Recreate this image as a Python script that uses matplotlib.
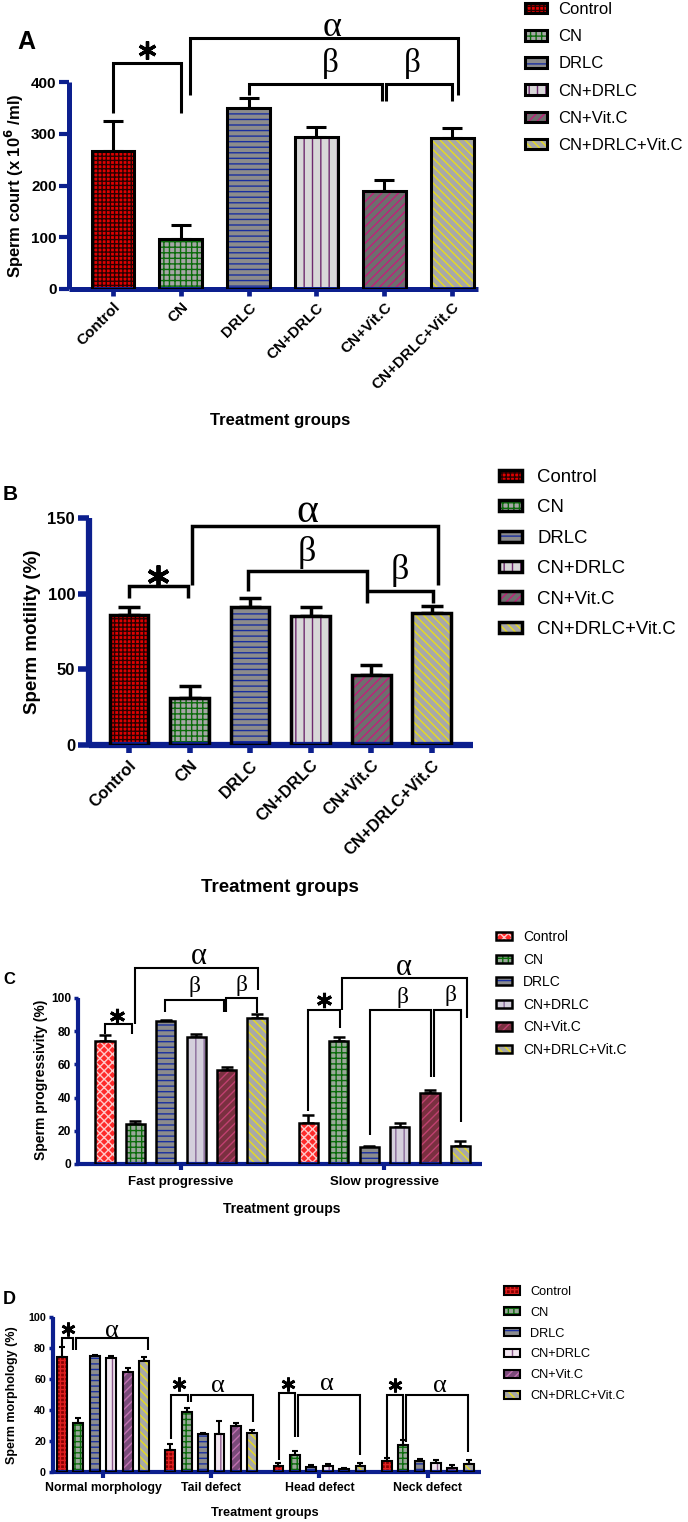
import numpy as np
import matplotlib
matplotlib.use("Agg")
import matplotlib.pyplot as plt
from matplotlib.patches import Patch
from matplotlib.legend_handler import HandlerTuple

plt.rcParams['font.family'] = ['Liberation Sans', 'DejaVu Sans']
plt.rcParams['hatch.linewidth'] = 1.0

W, H = 688, 1522
NAVY = '#0c1f8e'

groups = ['Control', 'CN', 'DRLC', 'CN+DRLC', 'CN+Vit.C', 'CN+DRLC+Vit.C']

# A - sperm count (x 10^6 /ml)
count_mean = [267, 97, 349, 293, 189, 291]
count_sem = [58, 27, 21, 21, 22, 20]

# B - sperm motility (%)
motility_mean = [86, 31, 91, 85, 46, 87]
motility_sem = [5, 8, 6, 6, 7, 5]

# C - sperm progressivity (%)
prog_cats = ['Fast progressive', 'Slow progressive']
fast_mean = [74, 24, 86, 76.6, 56.6, 88]
fast_sem = [4, 2, 1, 1.8, 2, 2.6]
slow_mean = [25, 74, 10, 22.4, 42.6, 11]
slow_sem = [4.4, 2.4, 1, 2, 2, 2.8]

# D - sperm morphology (%)
morph_cats = ['Normal morphology', 'Tail defect', 'Head defect', 'Neck defect']
normal_mean = [74, 31.3, 75, 73.4, 64.4, 71.3]
normal_sem = [6.5, 3.3, 0.6, 1.6, 2.6, 2.6]
tail_mean = [14, 38.9, 24.4, 24.4, 29.8, 25]
tail_sem = [4, 2.6, 0.9, 8.6, 1.9, 2.4]
head_mean = [3.9, 10.8, 3.2, 3.7, 2.2, 4.1]
head_sem = [2.1, 2.6, 1.5, 1.3, 0.6, 1.9]
neck_mean = [7.1, 17.7, 7.1, 5.8, 2.6, 5.4]
neck_sem = [1.9, 2.8, 1.1, 1.8, 1.7, 2.4]

# fill style per group: face, hatch colour, hatch
style_ab = [('#e00000', '#2a0000', '++++'),
            ('#a6a6a6', '#0b6b0b', '+++'),
            ('#8c8c8c', '#1a2fa0', '---'),
            ('#d8d8d8', '#6e2a6e', '||'),
            ('#6e6e6e', '#c0207a', '////'),
            ('#a8a8a8', '#e6dc1e', '\\\\\\\\')]
style_c = [('#ff2a2a', '#ffc8c8', 'xxxx'),
           ('#9aa89a', '#0b6b0b', '+++'),
           ('#8c8c8c', '#1a2fa0', '---'),
           ('#d4cfdc', '#8a6a9a', '||'),
           ('#7a3040', '#c04070', '////'),
           ('#a8a8a8', '#e6dc1e', '\\\\\\\\')]
style_d = [('#8a0000', '#e02020', '++++'),
           ('#9aa89a', '#0b6b0b', '+++'),
           ('#8c8c8c', '#1a2fa0', '---'),
           ('#f2e6f0', '#8a5a8a', '||'),
           ('#7a4a7a', '#c070b0', '////'),
           ('#a8a8a8', '#e6dc1e', '\\\\\\\\')]

fig = plt.figure(figsize=(W / 100, H / 100), dpi=100)


def fx(px):
    return px / W


def fy(py):
    return 1 - py / H


def make_axes(x0, x1, ybot, ytop, xlim, ylim, spine_lw):
    ax = fig.add_axes([fx(x0), fy(ybot), (x1 - x0) / W, (ybot - ytop) / H])
    ax.set_xlim(*xlim)
    ax.set_ylim(*ylim)
    for s in ['top', 'right']:
        ax.spines[s].set_visible(False)
    for s in ['left', 'bottom']:
        ax.spines[s].set_color(NAVY)
        ax.spines[s].set_linewidth(spine_lw)
        ax.spines[s].set_capstyle('butt')
    return ax


def draw_bars(ax, xs, mean, sem, style, width, lw, cap):
    handles = []
    for i in range(len(mean)):
        face, hcol, hatch = style[i]
        ax.bar(xs[i], mean[i], width, color=face, edgecolor=hcol, hatch=hatch,
               linewidth=0, zorder=2)
        ax.bar(xs[i], mean[i], width, fill=False, edgecolor='black',
               linewidth=lw, zorder=3)
        handles.append((Patch(facecolor=face, edgecolor=hcol, hatch=hatch, linewidth=0),
                        Patch(fill=False, edgecolor='black', linewidth=lw)))
    ax.errorbar(xs, mean, yerr=[np.zeros(len(mean)), sem], fmt='none', ecolor='black',
                elinewidth=lw, capsize=cap, capthick=lw, zorder=1)
    return handles


def bracket(ax, xl, xr, ytop, yl, yr, lw):
    ax.plot([xl, xl, xr, xr], [yl, ytop, ytop, yr], color='black', lw=lw,
            clip_on=False, solid_joinstyle='miter', solid_capstyle='butt', zorder=4)


def star(ax, x, y, size, lw):
    # six-spoke asterisk used for the "*" significance mark
    ax.plot([x], [y], marker=(6, 2, 0), ms=size, mew=lw, color='black',
            clip_on=False, zorder=4)


def greek(ax, x, y, s, size):
    ax.text(x, y, s, ha='center', va='center', fontsize=size,
            family='Liberation Serif', clip_on=False)


def add_legend(ax, handles, x_px, top_px, fs, hl, hh, pad, spacing):
    ax.legend(handles, groups, handler_map={tuple: HandlerTuple(ndivide=1, pad=0)},
              loc='upper left', bbox_to_anchor=(fx(x_px), fy(top_px)),
              bbox_transform=fig.transFigure, frameon=False, borderpad=0,
              borderaxespad=0, fontsize=fs, handlelength=hl, handleheight=hh,
              handletextpad=pad, labelspacing=spacing)


bold = dict(fontweight='bold')

# ---------------- A ----------------
axA = make_axes(69, 478, 289, 82, (-0.647, 5.38), (0, 400), 3.6)
xa = np.arange(6)
hA = draw_bars(axA, xa, count_mean, count_sem, style_ab, 0.63, 2.2, 7)
axA.set_yticks([0, 100, 200, 300, 400])
axA.set_xticks(xa)
axA.set_xticklabels(groups, rotation=45, ha='right', rotation_mode='anchor', fontsize=11, **bold)
axA.tick_params(axis='x', length=5, width=3.4, color=NAVY, pad=3)
axA.tick_params(axis='y', length=7, width=3, color=NAVY, labelsize=11, pad=2)
for t in axA.get_yticklabels():
    t.set_fontweight('bold')
bracket(axA, 0, 1, 437, 340, 340, 2.2)
star(axA, 0.5, 462, 13, 2.4)
bracket(axA, 1.14, 5.09, 485, 375, 375, 2.2)
greek(axA, 3.23, 506, '\u03b1', 26)
bracket(axA, 2.0, 3.97, 397, 375, 363, 2.2)
greek(axA, 3.2, 436, '\u03b2', 24)
bracket(axA, 4.03, 5.0, 397, 363, 363, 2.2)
greek(axA, 4.41, 436, '\u03b2', 24)
add_legend(axA, hA, 525, 2, 12, 1.3, 0.6, 0.7, 0.73)
fig.text(fx(14), fy(186), 'Sperm court (x 10$^{\\mathbf{6}}$ /ml)', rotation=90, ha='center',
         va='center', fontsize=12, **bold)
fig.text(fx(280), fy(421), 'Treatment groups', ha='center', va='center', fontsize=12, **bold)
fig.text(fx(26), fy(42), 'A', ha='center', va='center', fontsize=18, **bold)

# ---------------- B ----------------
axB = make_axes(89, 473, 745, 518, (-0.66, 5.68), (0, 150), 4.5)
xb = np.arange(6)
hB = draw_bars(axB, xb, motility_mean, motility_sem, style_ab, 0.64, 2.5, 8)
axB.set_yticks([0, 50, 100, 150])
axB.set_xticks(xb)
axB.set_xticklabels(groups, rotation=45, ha='right', rotation_mode='anchor', fontsize=12, **bold)
axB.tick_params(axis='x', length=6, width=4, color=NAVY, pad=3)
axB.tick_params(axis='y', length=8, width=4, color=NAVY, labelsize=12, pad=2)
for t in axB.get_yticklabels():
    t.set_fontweight('bold')
bracket(axB, 0, 0.97, 104.8, 97, 97, 2.5)
star(axB, 0.48, 112, 16, 2.8)
bracket(axB, 1.04, 5.1, 145, 105.4, 105.4, 2.5)
greek(axB, 2.94, 154, '\u03b1', 30)
bracket(axB, 1.96, 3.93, 115, 101.5, 94, 2.5)
greek(axB, 2.94, 127.5, '\u03b2', 26)
bracket(axB, 3.93, 5.02, 101.5, 101.5, 94, 2.5)
greek(axB, 4.47, 115, '\u03b2', 26)
add_legend(axB, hB, 499, 469, 13.4, 1.25, 0.55, 0.8, 0.72)
fig.text(fx(33), fy(632), 'Sperm motility (%)', rotation=90, ha='center', va='center',
         fontsize=13.5, **bold)
fig.text(fx(280), fy(887), 'Treatment groups', ha='center', va='center', fontsize=13.5, **bold)
fig.text(fx(10), fy(495), 'B', ha='center', va='center', fontsize=15, **bold)

# ---------------- C ----------------
GC = 6.69
axC = make_axes(78, 482, 1164, 998, (-3.39, 9.9), (0, 100), 3)
hC = None
for g, (m, s) in enumerate([(fast_mean, fast_sem), (slow_mean, slow_sem)]):
    xs = g * GC + np.arange(6) - 2.5
    h = draw_bars(axC, xs, m, s, style_c, 0.63, 1.8, 4)
    if hC is None:
        hC = h
axC.set_yticks([0, 20, 40, 60, 80, 100])
axC.set_xticks([0, GC])
axC.set_xticklabels(prog_cats, fontsize=9.5, **bold)
axC.tick_params(axis='x', length=4.3, width=3, color=NAVY, pad=4.5)
axC.tick_params(axis='y', length=3, width=2.5, color=NAVY, labelsize=8.6, pad=2)
for t in axC.get_yticklabels():
    t.set_fontweight('bold')
bracket(axC, -2.5, -1.61, 84.6, 78.6, 78.6, 1.5)
star(axC, -2.1, 89, 11, 2.2)
bracket(axC, -1.52, 2.53, 118, 84.6, 104.6, 1.5)
greek(axC, 0.59, 125, '\u03b1', 22)
bracket(axC, -0.52, 1.4, 99, 91.6, 91.6, 1.5)
greek(axC, 0.43, 107, '\u03b2', 17)
bracket(axC, 1.47, 2.5, 100, 91.6, 91, 1.5)
greek(axC, 2.0, 107.8, '\u03b2', 17)
bracket(axC, 4.18, 5.23, 93, 32, 82, 1.5)
star(axC, 4.7, 99, 11, 2.2)
bracket(axC, 5.3, 9.4, 112, 92.6, 88, 1.5)
greek(axC, 7.34, 118.5, '\u03b1', 22)
bracket(axC, 6.21, 8.23, 92.6, 17.6, 52.6, 1.5)
greek(axC, 7.27, 100.6, '\u03b2', 17)
bracket(axC, 8.33, 9.21, 92.6, 52.6, 25.6, 1.5)
greek(axC, 8.85, 101.8, '\u03b2', 17)
add_legend(axC, hC, 496, 930, 10, 1.15, 0.55, 0.8, 0.62)
fig.text(fx(41), fy(1080), 'Sperm progressivity (%)', rotation=90, ha='center', va='center',
         fontsize=10, **bold)
fig.text(fx(282), fy(1209), 'Treatment groups', ha='center', va='center', fontsize=10, **bold)
fig.text(fx(9), fy(980), 'C', ha='center', va='center', fontsize=12, **bold)

# ---------------- D ----------------
GD = 6.6
axD = make_axes(53, 481, 1472, 1317, (-3.05, 23.05), (0, 100), 3)
hD = None
d_sets = [(normal_mean, normal_sem), (tail_mean, tail_sem),
          (head_mean, head_sem), (neck_mean, neck_sem)]
for g, (m, s) in enumerate(d_sets):
    xs = g * GD + np.arange(6) - 2.5
    h = draw_bars(axD, xs, m, s, style_d, 0.6, 1.5, 2.5)
    if hD is None:
        hD = h
axD.set_yticks([0, 20, 40, 60, 80, 100])
axD.set_xticks(np.arange(4) * GD)
axD.set_xticklabels(morph_cats, fontsize=8.8, **bold)
axD.tick_params(axis='x', length=4.3, width=3, color=NAVY, pad=3)
axD.tick_params(axis='y', length=3, width=2.5, color=NAVY, labelsize=7.7, pad=2)
for t in axD.get_yticklabels():
    t.set_fontweight('bold')
bracket(axD, -2.49, -1.81, 86.4, 80.5, 79, 1.5)
star(axD, -2.13, 92, 10, 2)
bracket(axD, -1.62, 2.72, 86.4, 79, 79, 1.5)
greek(axD, 0.55, 91, '\u03b1', 19)
bracket(axD, 4.13, 5.18, 49.7, 21.6, 45.4, 1.5)
star(axD, 4.63, 56.5, 10, 2)
bracket(axD, 5.37, 9.17, 49.7, 45.4, 32.4, 1.5)
greek(axD, 7.0, 55.5, '\u03b1', 19)
bracket(axD, 10.74, 11.69, 50.8, 7.6, 22.7, 1.5)
star(axD, 11.28, 56.5, 10, 2)
bracket(axD, 11.88, 15.67, 50, 22.7, 10.8, 1.5)
greek(axD, 13.66, 56.5, '\u03b1', 19)
bracket(axD, 17.3, 18.3, 50, 10, 19.4, 1.5)
star(axD, 17.8, 56, 10, 2)
bracket(axD, 18.46, 22.23, 50, 19.4, 13, 1.5)
greek(axD, 20.55, 55.5, '\u03b1', 19)
add_legend(axD, hD, 504, 1286, 9.2, 1.25, 0.6, 0.78, 0.69)
fig.text(fx(12), fy(1395), 'Sperm morphology (%)', rotation=90, ha='center', va='center',
         fontsize=9, **bold)
fig.text(fx(265), fy(1513), 'Treatment groups', ha='center', va='center', fontsize=9.2, **bold)
fig.text(fx(9), fy(1300), 'D', ha='center', va='center', fontsize=13, **bold)

fig.savefig('out.png', dpi=100)
